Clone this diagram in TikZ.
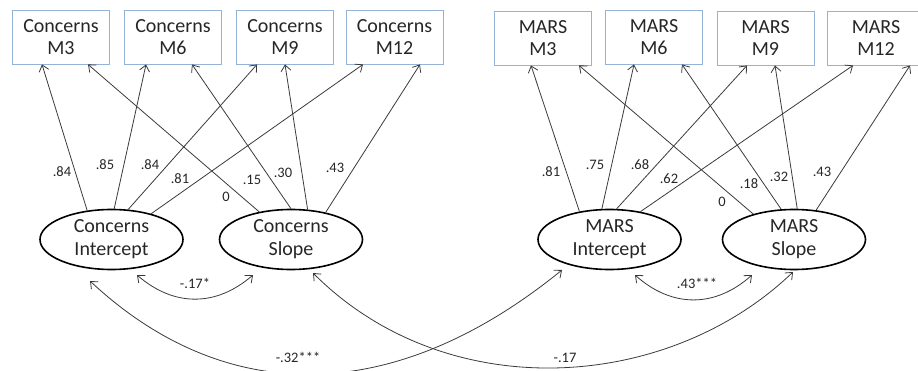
\documentclass[tikz,border=0pt]{standalone}
\usepackage{fontspec}
\setmainfont{Carlito}
\usetikzlibrary{arrows.meta,calc,shapes.geometric}
\definecolor{boxblue}{HTML}{95B3D7}
\definecolor{ink}{HTML}{262626}
\definecolor{wire}{HTML}{3A3A3A}
\begin{document}
\begin{tikzpicture}[x=1pt,y=-1pt,
  obs/.style={draw=boxblue,line width=0.9pt,minimum width=97pt,minimum height=54pt,
    inner sep=0pt,align=center,text=ink,font=\fontsize{20}{22}\selectfont},
  lat/.style={ellipse,draw=black,line width=1.6pt,minimum width=143pt,minimum height=60pt,
    inner sep=0pt,align=center,text=ink,font=\fontsize{20}{23}\selectfont},
  tip/.tip={Straight Barb[length=6pt,width=10pt,line width=0.8pt]},
  load/.style={draw=wire,line width=0.8pt,-tip},
  cov/.style={draw=wire,line width=0.8pt,tip-tip},
  coef/.style={text=ink,inner sep=0pt,font=\fontsize{14.5}{16}\selectfont}]
\useasboundingbox (0,0) rectangle (918,371);

% observed measures
\node[obs] (c3)  at (61,37)    {Concerns\\M3};
\node[obs] (c6)  at (173,37)   {Concerns\\M6};
\node[obs] (c9)  at (285,37)   {Concerns\\M9};
\node[obs] (c12) at (394.5,37) {Concerns\\M12};
\node[obs] (m3)  at (543,38)   {MARS\\M3};
\node[obs] (m6)  at (654,37)   {MARS\\M6};
\node[obs] (m9)  at (765.5,38) {MARS\\M9};
\node[obs] (m12) at (876,38)   {MARS\\M12};

% latent growth factors
\node[lat] (ci) at (111.5,239.5) {Concerns\\Intercept};
\node[lat] (cs) at (291,239.5)   {Concerns\\Slope};
\node[lat] (mi) at (609.5,239.5) {MARS\\Intercept};
\node[lat] (ms) at (794,239.5)   {MARS\\Slope};

% Concerns loadings
\draw[load] (ci.130.6) -- ([xshift=-19pt]c3.south);
\draw[load] (ci.85.9)  -- ([xshift=-27pt]c6.south);
\draw[load] (ci.61.1)  -- ([xshift=-28pt]c9.south);
\draw[load] (ci.33.7)  -- ([xshift=-31.5pt]c12.south);
\draw[load] (cs.139.7) -- ([xshift=27pt]c3.south);
\draw[load] (cs.90)    -- ([xshift=19pt]c6.south);
\draw[load] (cs.61)    -- ([xshift=0pt]c9.south);
\draw[load] (cs.38.5)  -- ([xshift=25.5pt]c12.south);

% MARS loadings
\draw[load] (mi.137.3) -- ([xshift=-12pt]m3.south);
\draw[load] (mi.104)   -- ([xshift=-20pt]m6.south);
\draw[load] (mi.77.8)  -- ([xshift=-18.5pt]m9.south);
\draw[load] (mi.42.5)  -- ([xshift=-23pt]m12.south);
\draw[load] (ms.148.5) -- ([xshift=36pt]m3.south);
\draw[load] (ms.113.4) -- ([xshift=28pt]m6.south);
\draw[load] (ms.84.3)  -- ([xshift=9.5pt]m9.south);
\draw[load] (ms.53.1)  -- ([xshift=34pt]m12.south);

% loading values
\node[coef] at (62,172)  {.84};
\node[coef] at (105,165) {.85};
\node[coef] at (150,165) {.84};
\node[coef] at (180,179) {.81};
\node[coef] at (226,197) {0};
\node[coef] at (252,180) {.15};
\node[coef] at (283,173) {.30};
\node[coef] at (335,168) {.43};
\node[coef] at (551,172) {.81};
\node[coef] at (595,165) {.75};
\node[coef] at (640,165) {.68};
\node[coef] at (669,179) {.62};
\node[coef] at (722,202) {0};
\node[coef] at (749,184) {.18};
\node[coef] at (779,177) {.32};
\node[coef] at (822,172) {.43};

% covariances
\draw[cov] ($(ci)+(25.5,35.5)$) .. controls +(37,32) and +(-37,32) .. ($(cs)+(-38,35.5)$);
\draw[cov] ($(mi)+(25.5,35.5)$) .. controls +(37,33) and +(-37,33) .. ($(ms)+(-42,35.5)$);
\draw[cov] ($(ci)+(-21.5,41.5)$) .. controls +(134,125) and +(-170,138) .. ($(mi)+(-47.5,30.5)$);
\draw[cov] ($(cs)+(22,33.5)$) .. controls +(134,134) and +(-125,120) .. ($(ms)+(-1,32.5)$);

\node[coef] at (195,283) {-.17*};
\node[coef] at (697,283) {.43***};
\node[coef] at (298,357) {-.32***};
\node[coef] at (565,358) {-.17};
\end{tikzpicture}
\end{document}
